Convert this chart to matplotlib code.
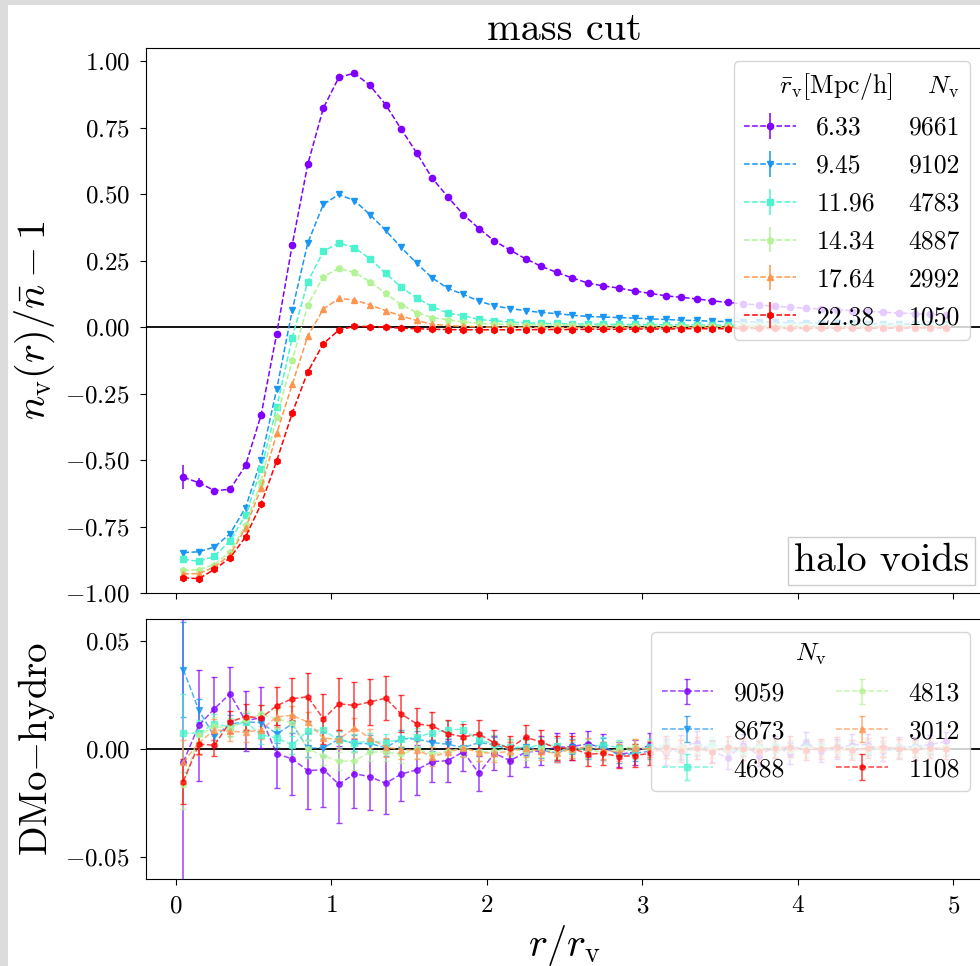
import numpy as np
import matplotlib.pyplot as plt
from matplotlib.lines import Line2D
from matplotlib.patches import Rectangle
from matplotlib.offsetbox import AnchoredText

plt.rcParams['font.family'] = 'serif'
plt.rcParams['font.serif'] = ['cmr10']
plt.rcParams['mathtext.fontset'] = 'cm'
plt.rcParams['axes.formatter.use_mathtext'] = True

# bin centres in units of the void radius
r_bins = np.linspace(0.05, 4.95, 50)

rv_mean = [6.33, 9.45, 11.96, 14.34, 17.64, 22.38]
N_hydro = [9661, 9102, 4783, 4887, 2992, 1050]
N_dmo = [9059, 8673, 4688, 4813, 3012, 1108]
markers = ['o', 'v', 's', 'p', '^', 'h']

# stacked density profiles n_v(r)/n - 1
prof_633 = [-0.565, -0.585, -0.615, -0.610, -0.520, -0.330, -0.025, 0.310, 0.613, 0.824,
            0.940, 0.955, 0.909, 0.837, 0.745, 0.655, 0.560, 0.490, 0.423, 0.371,
            0.324, 0.290, 0.257, 0.229, 0.206, 0.185, 0.166, 0.155, 0.147, 0.136,
            0.127, 0.118, 0.112, 0.106, 0.099, 0.093, 0.088, 0.083, 0.079, 0.075,
            0.071, 0.068, 0.065, 0.062, 0.059, 0.056, 0.053, 0.051, 0.048, 0.046]
prof_945 = [-0.848, -0.845, -0.827, -0.777, -0.679, -0.498, -0.234, 0.064, 0.317, 0.462,
            0.499, 0.476, 0.423, 0.364, 0.300, 0.240, 0.185, 0.146, 0.123, 0.098,
            0.080, 0.070, 0.062, 0.055, 0.051, 0.045, 0.040, 0.038, 0.036, 0.034,
            0.031, 0.029, 0.026, 0.025, 0.022, 0.021, 0.020, 0.019, 0.018, 0.017,
            0.016, 0.015, 0.014, 0.014, 0.013, 0.012, 0.012, 0.011, 0.011, 0.010]
prof_1196 = [-0.873, -0.881, -0.862, -0.804, -0.707, -0.534, -0.301, -0.039, 0.171, 0.285,
             0.317, 0.299, 0.257, 0.203, 0.150, 0.110, 0.077, 0.053, 0.043, 0.029,
             0.024, 0.019, 0.016, 0.014, 0.014, 0.012, 0.012, 0.011, 0.010, 0.010,
             0.009, 0.009, 0.008, 0.008, 0.008, 0.007, 0.007, 0.007, 0.006, 0.006,
             0.006, 0.006, 0.005, 0.005, 0.005, 0.005, 0.005, 0.004, 0.004, 0.004]
prof_1434 = [-0.915, -0.912, -0.893, -0.845, -0.745, -0.581, -0.338, -0.125, 0.084, 0.190,
             0.221, 0.206, 0.171, 0.127, 0.085, 0.055, 0.036, 0.028, 0.020, 0.014,
             0.012, 0.010, 0.009, 0.008, 0.007, 0.007, 0.006, 0.006, 0.005, 0.005,
             0.005, 0.004, 0.004, 0.004, 0.004, 0.003, 0.003, 0.003, 0.003, 0.003,
             0.003, 0.002, 0.002, 0.002, 0.002, 0.002, 0.002, 0.002, 0.001, 0.001]
prof_1764 = [-0.928, -0.927, -0.902, -0.857, -0.755, -0.606, -0.400, -0.215, -0.033, 0.068,
             0.108, 0.102, 0.084, 0.062, 0.042, 0.025, 0.011, 0.006, 0.003, 0.001,
             0.000, -0.001, -0.001, -0.002, -0.002, -0.002, -0.002, -0.002, -0.002, -0.002,
             -0.002, -0.002, -0.002, -0.001, -0.001, -0.001, -0.001, -0.001, -0.001, -0.001,
             -0.001, -0.001, -0.001, -0.001, 0.000, 0.000, 0.000, 0.000, 0.000, 0.000]
prof_2238 = [-0.943, -0.946, -0.911, -0.868, -0.789, -0.665, -0.503, -0.323, -0.168, -0.062,
             -0.011, 0.003, 0.002, 0.000, -0.004, -0.006, -0.008, -0.009, -0.010, -0.010,
             -0.010, -0.010, -0.010, -0.009, -0.009, -0.009, -0.008, -0.008, -0.008, -0.007,
             -0.007, -0.007, -0.006, -0.006, -0.006, -0.006, -0.005, -0.005, -0.005, -0.005,
             -0.005, -0.004, -0.004, -0.004, -0.004, -0.004, -0.004, -0.003, -0.003, -0.003]

err_633 = [0.045, 0.016, 0.010, 0.008, 0.007, 0.006, 0.006, 0.006, 0.006, 0.006,
           0.006, 0.005, 0.005, 0.005, 0.005, 0.005, 0.004, 0.004, 0.004, 0.004,
           0.004, 0.004, 0.003, 0.003, 0.003, 0.003, 0.003, 0.003, 0.003, 0.003,
           0.003, 0.003, 0.002, 0.002, 0.002, 0.002, 0.002, 0.002, 0.002, 0.002,
           0.002, 0.002, 0.002, 0.002, 0.002, 0.002, 0.002, 0.002, 0.002, 0.002]
err_big = [0.010, 0.006, 0.004, 0.004, 0.003, 0.003, 0.003, 0.003, 0.003, 0.003,
           0.003, 0.003, 0.003, 0.002, 0.002, 0.002, 0.002, 0.002, 0.002, 0.002,
           0.002, 0.002, 0.002, 0.002, 0.002, 0.002, 0.001, 0.001, 0.001, 0.001,
           0.001, 0.001, 0.001, 0.001, 0.001, 0.001, 0.001, 0.001, 0.001, 0.001,
           0.001, 0.001, 0.001, 0.001, 0.001, 0.001, 0.001, 0.001, 0.001, 0.001]

# DMo minus hydro residuals
diff_9059 = [-0.0060, 0.0110, 0.0186, 0.0255, 0.0130, 0.0145, -0.0022, -0.0046, -0.0100, -0.0095,
             -0.0163, -0.0114, -0.0128, -0.0158, -0.0116, -0.0096, -0.0058, -0.0054, -0.0012, -0.0113,
             -0.0019, -0.0054, -0.0015, -0.0008, 0.0007, 0.0012, 0.0023, 0.0007, -0.0024, -0.0015,
             0.0020, -0.0020, 0.0010, 0.0030, -0.0010, -0.0040, 0.0020, -0.0030, 0.0010, -0.0020,
             0.0030, -0.0010, 0.0000, 0.0020, 0.0020, -0.0010, 0.0010, 0.0010, 0.0020, 0.0035]
diff_8673 = [0.0366, 0.0178, 0.0058, 0.0115, 0.0125, 0.0122, 0.0070, 0.0115, 0.0003, 0.0006,
             0.0045, 0.0025, 0.0025, 0.0006, 0.0048, 0.0046, 0.0030, 0.0022, 0.0006, 0.0030,
             0.0020, -0.0005, 0.0010, -0.0005, -0.0018, 0.0010, -0.0010, 0.0015, -0.0030, -0.0020,
             -0.0010, 0.0010, -0.0020, 0.0000, 0.0010, -0.0015, 0.0005, 0.0010, -0.0010, 0.0000,
             0.0015, -0.0005, 0.0010, -0.0010, 0.0005, 0.0000, -0.0010, 0.0010, 0.0005, 0.0000]
diff_4688 = [0.0074, 0.0072, 0.0117, 0.0102, 0.0125, 0.0066, 0.0050, 0.0019, 0.0084, 0.0087,
             0.0040, 0.0030, 0.0035, 0.0030, 0.0045, 0.0055, 0.0075, 0.0090, 0.0090, 0.0040,
             0.0025, 0.0010, 0.0005, 0.0020, 0.0015, -0.0005, 0.0010, 0.0020, 0.0005, -0.0010,
             0.0010, 0.0015, -0.0005, 0.0010, 0.0020, 0.0005, -0.0010, 0.0000, 0.0015, 0.0005,
             -0.0005, 0.0010, 0.0000, 0.0005, -0.0010, 0.0005, 0.0010, 0.0000, -0.0005, 0.0005]
diff_4813 = [-0.0165, 0.0063, 0.0104, 0.0097, 0.0135, 0.0160, 0.0140, 0.0120, 0.0000, -0.0030,
             -0.0057, -0.0054, -0.0015, -0.0013, -0.0025, 0.0000, -0.0023, -0.0010, 0.0005, -0.0015,
             -0.0010, 0.0005, -0.0015, 0.0000, -0.0010, 0.0005, -0.0005, -0.0015, 0.0000, 0.0010,
             -0.0005, 0.0000, 0.0010, -0.0010, 0.0005, 0.0000, -0.0005, 0.0010, 0.0000, -0.0010,
             0.0005, 0.0000, -0.0005, 0.0005, 0.0010, 0.0000, -0.0005, 0.0005, 0.0000, 0.0005]
diff_3012 = [-0.0060, 0.0028, 0.0089, 0.0082, 0.0077, 0.0089, 0.0148, 0.0155, 0.0125, 0.0050,
             0.0045, 0.0097, 0.0050, 0.0008, -0.0003, -0.0005, -0.0035, -0.0015, 0.0005, -0.0015,
             -0.0020, -0.0010, 0.0005, -0.0010, -0.0020, 0.0000, 0.0010, -0.0005, -0.0015, 0.0005,
             0.0000, -0.0010, 0.0005, 0.0010, -0.0005, 0.0000, 0.0010, -0.0010, 0.0000, 0.0005,
             -0.0005, 0.0010, 0.0000, -0.0010, 0.0005, 0.0000, 0.0010, -0.0005, 0.0000, 0.0010]
diff_1108 = [-0.0150, 0.0023, 0.0017, 0.0125, 0.0150, 0.0143, 0.0200, 0.0232, 0.0241, 0.0139,
             0.0209, 0.0201, 0.0217, 0.0235, 0.0162, 0.0116, 0.0106, 0.0071, 0.0056, 0.0069,
             0.0028, 0.0003, 0.0055, 0.0032, 0.0004, 0.0004, -0.0024, -0.0020, -0.0035, -0.0030,
             -0.0020, 0.0010, -0.0010, 0.0005, -0.0015, 0.0010, 0.0000, -0.0010, 0.0005, 0.0010,
             -0.0005, 0.0000, 0.0010, -0.0005, 0.0005, 0.0010, 0.0000, -0.0005, 0.0005, 0.0000]

derr_9059 = [0.0660, 0.0256, 0.0145, 0.0122, 0.0140, 0.0140, 0.0158, 0.0165, 0.0176, 0.0173,
             0.0177, 0.0158, 0.0152, 0.0140, 0.0126, 0.0115, 0.0094, 0.0098, 0.0088, 0.0083,
             0.0080, 0.0072, 0.0070, 0.0068, 0.0066, 0.0064, 0.0062, 0.0060, 0.0058, 0.0057,
             0.0056, 0.0055, 0.0054, 0.0053, 0.0052, 0.0052, 0.0051, 0.0050, 0.0050, 0.0049,
             0.0049, 0.0048, 0.0048, 0.0047, 0.0047, 0.0046, 0.0046, 0.0046, 0.0045, 0.0045]
derr_8673 = [0.0220, 0.0055, 0.0045, 0.0042, 0.0042, 0.0042, 0.0040, 0.0040, 0.0040, 0.0040,
             0.0040, 0.0040, 0.0040, 0.0039, 0.0039, 0.0039, 0.0038, 0.0038, 0.0038, 0.0037,
             0.0037, 0.0037, 0.0036, 0.0036, 0.0036, 0.0035, 0.0035, 0.0035, 0.0034, 0.0034,
             0.0034, 0.0034, 0.0033, 0.0033, 0.0033, 0.0033, 0.0032, 0.0032, 0.0032, 0.0032,
             0.0031, 0.0031, 0.0031, 0.0031, 0.0030, 0.0030, 0.0030, 0.0030, 0.0030, 0.0030]
derr_4688 = [0.0180, 0.0060, 0.0045, 0.0042, 0.0042, 0.0042, 0.0042, 0.0042, 0.0042, 0.0042,
             0.0041, 0.0041, 0.0041, 0.0040, 0.0040, 0.0040, 0.0039, 0.0039, 0.0039, 0.0038,
             0.0038, 0.0038, 0.0037, 0.0037, 0.0037, 0.0036, 0.0036, 0.0036, 0.0035, 0.0035,
             0.0035, 0.0035, 0.0034, 0.0034, 0.0034, 0.0034, 0.0033, 0.0033, 0.0033, 0.0033,
             0.0032, 0.0032, 0.0032, 0.0032, 0.0031, 0.0031, 0.0031, 0.0031, 0.0031, 0.0031]
derr_4813 = [0.0110, 0.0050, 0.0045, 0.0042, 0.0042, 0.0042, 0.0042, 0.0042, 0.0042, 0.0042,
             0.0042, 0.0042, 0.0041, 0.0041, 0.0041, 0.0040, 0.0040, 0.0040, 0.0039, 0.0039,
             0.0039, 0.0038, 0.0038, 0.0038, 0.0037, 0.0037, 0.0037, 0.0036, 0.0036, 0.0036,
             0.0035, 0.0035, 0.0035, 0.0035, 0.0034, 0.0034, 0.0034, 0.0034, 0.0033, 0.0033,
             0.0033, 0.0033, 0.0032, 0.0032, 0.0032, 0.0032, 0.0031, 0.0031, 0.0031, 0.0031]
derr_3012 = [0.0100, 0.0055, 0.0048, 0.0045, 0.0045, 0.0045, 0.0045, 0.0045, 0.0045, 0.0045,
             0.0045, 0.0045, 0.0044, 0.0044, 0.0044, 0.0043, 0.0043, 0.0043, 0.0042, 0.0042,
             0.0042, 0.0041, 0.0041, 0.0041, 0.0040, 0.0040, 0.0040, 0.0039, 0.0039, 0.0039,
             0.0038, 0.0038, 0.0038, 0.0038, 0.0037, 0.0037, 0.0037, 0.0037, 0.0036, 0.0036,
             0.0036, 0.0036, 0.0035, 0.0035, 0.0035, 0.0035, 0.0034, 0.0034, 0.0034, 0.0034]
derr_1108 = [0.0104, 0.0046, 0.0050, 0.0050, 0.0060, 0.0060, 0.0088, 0.0098, 0.0110, 0.0115,
             0.0120, 0.0110, 0.0105, 0.0102, 0.0085, 0.0075, 0.0066, 0.0065, 0.0060, 0.0063,
             0.0060, 0.0058, 0.0058, 0.0056, 0.0056, 0.0055, 0.0054, 0.0053, 0.0053, 0.0052,
             0.0052, 0.0051, 0.0051, 0.0050, 0.0050, 0.0050, 0.0049, 0.0049, 0.0048, 0.0048,
             0.0048, 0.0047, 0.0047, 0.0047, 0.0046, 0.0046, 0.0046, 0.0045, 0.0045, 0.0045]

profiles = [prof_633, prof_945, prof_1196, prof_1434, prof_1764, prof_2238]
prof_errs = [err_633, err_big, err_big, err_big, err_big, err_big]
diffs = [diff_9059, diff_8673, diff_4688, diff_4813, diff_3012, diff_1108]
diff_errs = [derr_9059, derr_8673, derr_4688, derr_4813, derr_3012, derr_1108]

colors = plt.cm.rainbow(np.linspace(0, 1, len(rv_mean)))

fig = plt.figure(figsize=(9.8, 9.66), dpi=100, facecolor='#dcdcdc')
fig.patches.append(Rectangle((8/980, 0), 1, 1 - 5/966, transform=fig.transFigure,
                             facecolor='white', edgecolor='none', zorder=-10))
ax1 = fig.add_axes([146/980, 373/966, 837/980, 545/966])
ax2 = fig.add_axes([146/980, 87/966, 837/980, 260/966], sharex=ax1)

for i in range(len(rv_mean)):
    ax1.errorbar(r_bins, profiles[i], yerr=prof_errs[i], color=colors[i], marker=markers[i],
                 ms=4.5, ls='--', lw=1.1, elinewidth=1.1, label='%.2f' % rv_mean[i])
    ax2.errorbar(r_bins, diffs[i], yerr=diff_errs[i], color=colors[i], marker=markers[i],
                 ms=4, ls='--', lw=1.1, elinewidth=1.1, capsize=2.5, alpha=0.75,
                 label=str(N_dmo[i]))

ax1.axhline(0, color='k', lw=1.3, zorder=1)
ax2.axhline(0, color='k', lw=1.3, zorder=1)

# second legend column only carries the void counts
h, l = ax1.get_legend_handles_labels()
blank = [Line2D([], [], ls='none') for n in N_hydro]
ax1.legend(h + blank, l + [str(n) for n in N_hydro], ncol=2, loc='upper right',
           fontsize=18.5, title=r'$\bar{r}_{\rm v}$[Mpc/h]    $N_{\rm v}$', title_fontsize=18.5,
           columnspacing=-1.5, alignment='right', handlelength=2.0, labelspacing=0.55)
ax2.legend(ncol=2, loc='upper right', fontsize=18.5, title=r'$N_{\rm v}$', title_fontsize=18.5,
           labelspacing=0.55)

at = AnchoredText('halo voids', loc='lower right', prop=dict(size=28.5), frameon=True,
                  pad=0.15, borderpad=0.2)
at.patch.set_edgecolor('0.8')
ax1.add_artist(at)

ax1.set_title('mass cut', fontsize=29, pad=4)
ax1.set_xlim(-0.19, 5.19)
ax1.set_ylim(-1.0, 1.05)
ax1.set_yticks(np.arange(-1.0, 1.01, 0.25))
ax2.set_ylim(-0.06, 0.06)
ax2.set_yticks([-0.05, 0.0, 0.05])
ax2.set_xticks([0, 1, 2, 3, 4, 5])
ax1.tick_params(labelbottom=False)
for ax in (ax1, ax2):
    ax.tick_params(labelsize=18, length=4.5, pad=7)

ax1.set_ylabel(r'$n_{\rm v}(r)/\bar{n}-1$', fontsize=29)
ax2.set_ylabel(r'DMo$-$hydro', fontsize=28)
ax2.set_xlabel(r'$r/r_{\rm v}$', fontsize=29)
ax1.yaxis.set_label_coords(-0.106, 0.5)
ax2.yaxis.set_label_coords(-0.106, 0.5)

fig.savefig('out.png', dpi=100, facecolor=fig.get_facecolor())
